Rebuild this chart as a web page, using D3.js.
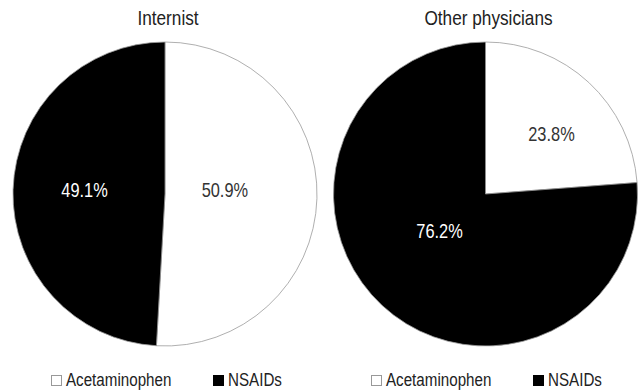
<!DOCTYPE html>
<html>
<head>
<meta charset="utf-8">
<script src="https://cdn.jsdelivr.net/npm/d3@7"></script>
<style>
  html, body { margin: 0; padding: 0; background: #fff; }
  svg { display: block; }
  text { font-family: "Liberation Sans", Arial, sans-serif; }
</style>
</head>
<body>
<svg id="chart" width="640" height="390"></svg>
<script>
// ---- data ----
const groups = ["Internist", "Other physicians"];
const categories = ["Acetaminophen", "NSAIDs"];
const internistValues = [50.9, 49.1];
const otherValues = [23.8, 76.2];
const seriesValues = [internistValues, otherValues];

// ---- layout / style (not data) ----
const W = 640, H = 390;
const centersX = [165, 485.5];
const centerY = 194;
const radius = 152;
const fills = ["#ffffff", "#000000"];
const labelColors = ["#333333", "#ffffff"];
const narrow = 0.82; // horizontal condensing, mimics a narrow typeface
// label placement per pie per slice: [angle in degrees from 12 o'clock, radius]
const labelLayout = [
  [[86.2, 60], [272.8, 80.6]],
  [[47.7, 89.2], [231.6, 58.7]]
];
const legendSquareX = [51, 371];
const legendSecondX = [213, 533];

const svg = d3.select("#chart");

function narrowText(sel, x, y) {
  return sel.attr("transform", `translate(${x},${y}) scale(${narrow},1)`);
}

const pie = d3.pie().sort(null).value(d => d);
const arc = d3.arc().innerRadius(0).outerRadius(radius);

seriesValues.forEach((vals, gi) => {
  const g = svg.append("g").attr("transform", `translate(${centersX[gi]},${centerY})`);
  const arcs = pie(vals);
  g.selectAll("path").data(arcs).enter().append("path")
    .attr("d", arc)
    .attr("fill", (d, i) => fills[i])
    .attr("stroke", "#9a9a9a")
    .attr("stroke-width", 0.8);

  g.selectAll("text.lbl").data(arcs).enter().append("text")
    .attr("class", "lbl")
    .each(function(d, i) {
      const [a, r] = labelLayout[gi][i];
      narrowText(d3.select(this), r * Math.sin(a * Math.PI / 180), -r * Math.cos(a * Math.PI / 180));
    })
    .attr("dy", "0.36em")
    .attr("text-anchor", "middle")
    .attr("font-size", 20)
    .attr("fill", (d, i) => labelColors[i])
    .text(d => d.data.toFixed(1) + "%");

  // title
  narrowText(svg.append("text"), centersX[gi] + 3, 25)
    .attr("text-anchor", "middle")
    .attr("font-size", 21)
    .attr("fill", "#222")
    .text(groups[gi]);

  // legend
  const lx = [legendSquareX[gi], legendSecondX[gi]];
  categories.forEach((c, ci) => {
    svg.append("rect")
      .attr("x", lx[ci] + 0.5)
      .attr("y", 375.5)
      .attr("width", 10)
      .attr("height", 10)
      .attr("fill", fills[ci])
      .attr("stroke", ci === 0 ? "#999" : "#000")
      .attr("stroke-width", 1);
    narrowText(svg.append("text"), lx[ci] + 15, 386)
      .attr("font-size", 18.5)
      .attr("fill", "#222")
      .text(c);
  });
});
</script>
</body>
</html>
